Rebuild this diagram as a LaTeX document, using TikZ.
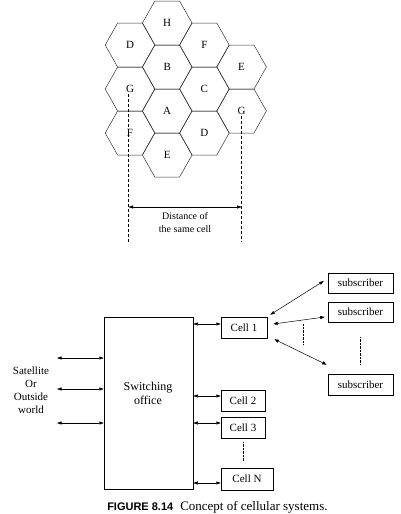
\documentclass[tikz,border=0pt]{standalone}
\usepackage{fontspec}
\setmainfont{Liberation Serif}
\newfontfamily\capfont{Liberation Sans}
\usetikzlibrary{arrows.meta,calc}

\tikzset{
  cellbox/.style={draw, minimum height=21pt, inner sep=2pt},
  subbox/.style={draw, minimum width=65pt, minimum height=20pt, inner sep=2pt},
  dbl/.style={{Triangle[length=4.5pt,width=3pt]}-{Triangle[length=4.5pt,width=3pt]}},
  dots/.style={dash pattern=on 0.8pt off 0.6pt, line width=0.5pt},
}

\begin{document}
\begin{tikzpicture}[x=1pt,y=-1pt,font=\fontsize{11}{13}\selectfont,line width=0.5pt]
  \useasboundingbox (0,0) rectangle (401,514);
  % hexagonal cluster
  \foreach \x/\y/\lbl/\nm in {130/45/D/d1, 130/89/G/gl, 130/133/F/f1,
      167.2/23/H/h1, 167.2/67/B/b1, 167.2/111/A/a1, 167.2/155/E/e1,
      204.4/45/F/f2, 204.4/89/C/c0, 204.4/133/D/d2,
      241.6/67/E/e2, 241.6/111/G/gr}
  {
    \draw[black!80] (\x,\y) +(-24.8,0) -- +(-12.4,-22) -- +(12.4,-22)
      -- +(24.8,0) -- +(12.4,22) -- +(-12.4,22) -- cycle;
    \node[inner sep=1pt] (\nm) at (\x,\y) {\lbl};
  }
  % reuse distance
  \coordinate (lb) at ([xshift=-1.5pt]gl.south |- 0,242);
  \coordinate (rb) at (gr.south |- 0,242);
  \draw[dash pattern=on 3pt off 2pt] ([xshift=-1.5pt]gl.south) -- (lb);
  \draw[dash pattern=on 3pt off 2pt] (gr.south) -- (rb);
  \coordinate (da) at (lb |- 0,207);
  \coordinate (db) at (rb |- 0,207);
  \draw[dbl] (da) -- (db) node[midway,below=2pt,align=center,
    font=\fontsize{10}{13}\selectfont]{Distance of\\the same cell};

  % switching office
  \node[draw,minimum width=89pt,minimum height=172pt] (sw) at (148.5,403) {};
  \node[align=center,font=\fontsize{12}{14}\selectfont] (swl) at (148,393) {Switching\\office};
  \node[align=center] (ow) at (31,390) {Satellite\\Or\\Outside\\world};
  \foreach \yy [count=\i] in {358,389,423}
  {
    \coordinate (o\i) at (57,\yy);
    \draw[dbl] (o\i) -- (o\i -| sw.west);
  }

  % cells
  \node[cellbox,minimum width=46pt] (c1) at (244,327.5) {Cell 1};
  \node[cellbox,minimum width=44pt] (c2) at (243,400.5) {Cell 2};
  \node[cellbox,minimum width=44pt] (c3) at (243,427.5) {Cell 3};
  \node[cellbox,minimum width=52pt,minimum height=22pt] (cn) at (247,479) {Cell N};
  \coordinate (p1) at ([yshift=3.5pt]c1.west);
  \coordinate (p2) at ([yshift=4.5pt]c2.west);
  \coordinate (p3) at ([yshift=4.5pt]c3.west);
  \coordinate (pn) at ([yshift=-4pt]cn.west);
  \foreach \p in {p1,p2,p3,pn}
    \draw[dbl] (\p -| sw.east) -- (\p);
  \draw[dots] ([yshift=-4pt]c3.south) -- ([yshift=6pt]c3.south |- cn.north);

  % subscribers
  \node[subbox] (s1) at (360.5,283) {subscriber};
  \node[subbox] (s2) at (360.5,312) {subscriber};
  \node[subbox,minimum height=21pt] (s3) at (360.5,384.5) {subscriber};
  \draw[dbl] ([xshift=3pt,yshift=2pt]c1.north east) -- ([xshift=-4pt,yshift=2pt]s1.west);
  \draw[dbl] ([xshift=6pt,yshift=3.5pt]c1.east) -- ([xshift=-3pt,yshift=-5pt]s2.west);
  \draw[dbl] ([xshift=7pt,yshift=-1pt]c1.south east) -- ([xshift=-1pt,yshift=9pt]s3.north west);
  \coordinate (v1) at (303,324);
  \coordinate (v2) at (303,345);
  \draw[dots] (v1) -- (v2);
  \draw[dots] ($(s2.south)+(0,15)$) -- ($(s3.north)+(0,-9)$);

  % caption
  \node[anchor=base west,inner sep=0pt] (cap) at (107,510)
    {{\capfont\bfseries\fontsize{11}{12}\selectfont FIGURE 8.14}\hspace{7pt}\fontsize{13}{15}\selectfont Concept of cellular systems.};
\end{tikzpicture}
\end{document}
